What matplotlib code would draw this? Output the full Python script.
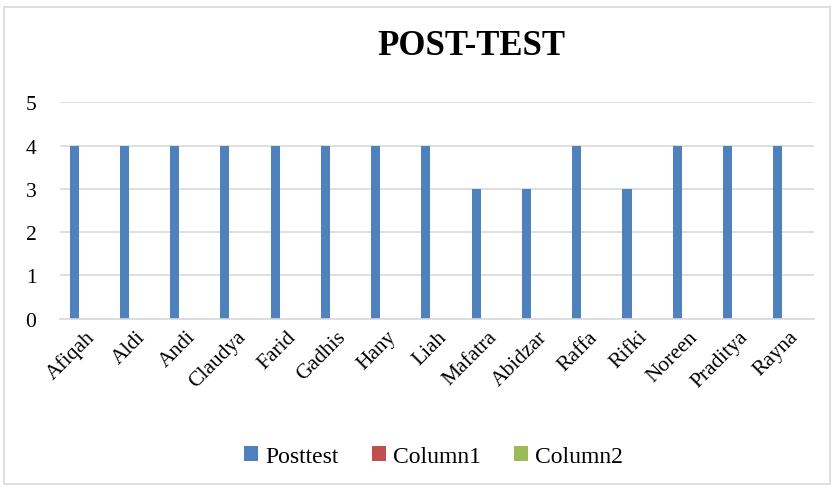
import matplotlib
matplotlib.use("Agg")
import matplotlib.pyplot as plt
import numpy as np
from matplotlib.patches import Rectangle

names = ["Afiqah", "Aldi", "Andi", "Claudya", "Farid", "Gadhis", "Hany", "Liah",
         "Mafatra", "Abidzar", "Raffa", "Rifki", "Noreen", "Praditya", "Rayna"]
posttest = [4, 4, 4, 4, 4, 4, 4, 4, 3, 3, 4, 3, 4, 4, 4]
column1 = [0] * 15
column2 = [0] * 15
series_names = ["Posttest", "Column1", "Column2"]
colors = ["#4f81bd", "#c0504d", "#9bbb59"]

plt.rcParams['font.family'] = ['Liberation Serif', 'DejaVu Serif']

fig = plt.figure(figsize=(8.34, 4.89), dpi=100)
ax = fig.add_axes([0.072, 0.346, 0.904, 0.443])

x = np.arange(len(names))
w = 0.18
for i, (vals, lab, c) in enumerate(zip([posttest, column1, column2], series_names, colors)):
    ax.bar(x + (i - 1) * 0.22, vals, width=w, color=c, label=lab, linewidth=0)

ax.set_xlim(-0.5, len(names) - 0.5)
ax.set_ylim(0, 5)
ax.set_yticks(range(0, 6))
ax.yaxis.grid(True, color="#d9d9d9", linewidth=1.2)
ax.set_axisbelow(True)
for s in ["top", "right", "left"]:
    ax.spines[s].set_visible(False)
ax.spines["bottom"].set_color("#d9d9d9")
ax.spines["bottom"].set_linewidth(1.2)
ax.tick_params(axis="both", length=0, labelsize=15.5)
ax.tick_params(axis="y", pad=17)
ax.set_xticks(x)
ax.set_xticklabels(names, rotation=45, ha="right", rotation_mode="anchor")
ax.tick_params(axis="x", pad=6)

fig.text(0.565, 0.905, "POST-TEST", ha="center", va="center", fontsize=25, fontweight="bold")

handles, labels = ax.get_legend_handles_labels()
fig.legend(handles, labels, loc="center", bbox_to_anchor=(0.52, 0.065), ncol=3,
           frameon=False, fontsize=17, handlelength=0.6, handleheight=0.6,
           columnspacing=1.4, handletextpad=0.3)

fig.patches.append(Rectangle((0.005, 0.008), 0.99, 0.975, transform=fig.transFigure,
                             fill=False, edgecolor="#d9d9d9", linewidth=1.2))

fig.savefig("out.png", dpi=100, facecolor="white")
